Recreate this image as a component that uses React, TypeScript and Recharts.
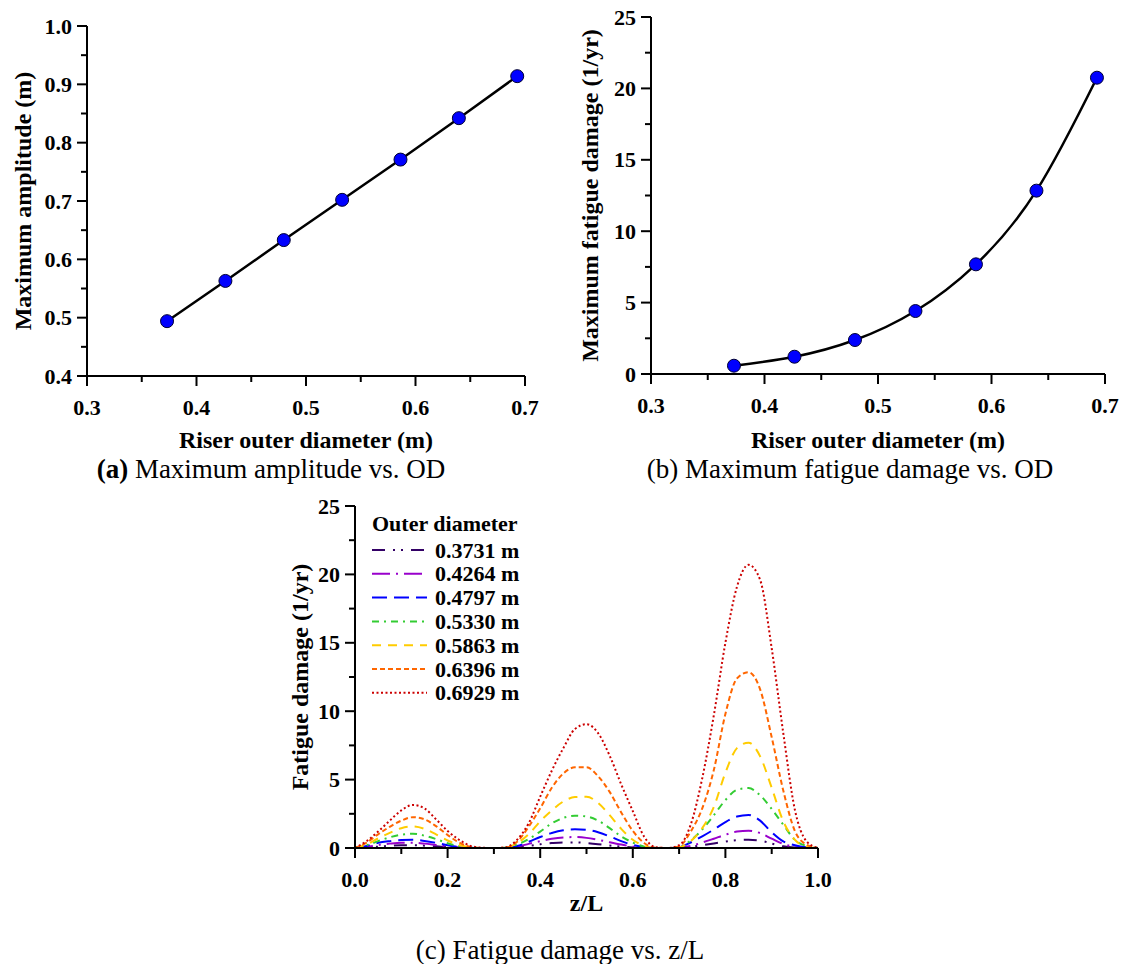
import { LineChart, Line, XAxis, YAxis } from 'recharts'

const serif = "'Liberation Serif', 'Times New Roman', Times, serif"

// (a) and (b): seven riser outer diameters
const outerDiameters = [0.3731, 0.4264, 0.4797, 0.533, 0.5863, 0.6396, 0.6929]
const maxAmplitude = [0.494, 0.563, 0.633, 0.702, 0.771, 0.842, 0.914]
const maxFatigueDamage = [0.58, 1.21, 2.38, 4.41, 7.68, 12.84, 20.75]

const odMajor = [0.3, 0.4, 0.5, 0.6, 0.7]
const odMinor = [0.35, 0.45, 0.55, 0.65]
const ampMajor = [0.4, 0.5, 0.6, 0.7, 0.8, 0.9, 1.0]
const ampMinor = [0.45, 0.55, 0.65, 0.75, 0.85, 0.95]
const damageMajor = [0, 5, 10, 15, 20, 25]
const damageMinor = [2.5, 7.5, 12.5, 17.5, 22.5]
const zMajor = [0, 0.2, 0.4, 0.6, 0.8, 1.0]
const zMinor = [0.1, 0.3, 0.5, 0.7, 0.9]

// (c): fatigue damage along the riser
const zOverL = [
  0, 0.025, 0.05, 0.075, 0.1, 0.125, 0.15, 0.175, 0.2, 0.225, 0.25,
  0.275, 0.3, 0.325, 0.35, 0.375, 0.4, 0.425, 0.45, 0.475, 0.5,
  0.525, 0.55, 0.575, 0.6, 0.625, 0.65, 0.675, 0.7, 0.725, 0.75,
  0.775, 0.8, 0.825, 0.85, 0.875, 0.9, 0.925, 0.95, 0.975, 1,
]
const damage3731 = [
  0, 0.04, 0.1, 0.16, 0.2, 0.2, 0.17, 0.12, 0.06, 0.02, 0,
  0, 0, 0.01, 0.05, 0.15, 0.27, 0.36, 0.41, 0.41, 0.36,
  0.28, 0.18, 0.1, 0.04, 0.01, 0, 0, 0.01, 0.08, 0.2,
  0.33, 0.47, 0.57, 0.6, 0.54, 0.32, 0.12, 0.03, 0, 0,
]
const damage4264 = [
  0, 0.08, 0.22, 0.32, 0.38, 0.38, 0.32, 0.22, 0.12, 0.05, 0.01,
  0, 0, 0.01, 0.1, 0.3, 0.5, 0.67, 0.77, 0.8, 0.74,
  0.6, 0.42, 0.25, 0.1, 0.03, 0, 0, 0.02, 0.15, 0.4,
  0.68, 0.97, 1.2, 1.26, 1.09, 0.68, 0.3, 0.08, 0, 0,
]
const damage4797 = [
  0, 0.15, 0.38, 0.5, 0.58, 0.6, 0.52, 0.38, 0.2, 0.08, 0.02,
  0, 0, 0.02, 0.15, 0.45, 0.8, 1.1, 1.3, 1.37, 1.33,
  1.15, 0.85, 0.5, 0.22, 0.06, 0, 0, 0.05, 0.4, 0.85,
  1.35, 1.9, 2.3, 2.42, 2.0, 1.15, 0.48, 0.2, 0.05, 0,
]
const damage5330 = [
  0, 0.2, 0.5, 0.78, 0.97, 1.04, 0.9, 0.65, 0.35, 0.13, 0.03,
  0, 0, 0.02, 0.25, 0.65, 1.2, 1.8, 2.2, 2.36, 2.3,
  2.0, 1.45, 0.85, 0.4, 0.1, 0, 0, 0.05, 0.55, 1.35,
  2.4, 3.5, 4.25, 4.38, 3.85, 2.85, 1.7, 0.6, 0.15, 0,
]
const damage5863 = [
  0, 0.25, 0.7, 1.1, 1.45, 1.57, 1.4, 1.0, 0.55, 0.22, 0.05,
  0, 0, 0.02, 0.35, 1.0, 1.95, 2.75, 3.4, 3.72, 3.75,
  3.3, 2.4, 1.4, 0.6, 0.15, 0, 0, 0.05, 0.5, 1.45,
  3.0, 5.5, 7.3, 7.7, 6.7, 4.4, 1.95, 0.6, 0.1, 0,
]
const damage6396 = [
  0, 0.4, 1.0, 1.55, 2.0, 2.25, 2.1, 1.6, 0.95, 0.4, 0.08,
  0, 0, 0.03, 0.45, 1.55, 2.9, 4.4, 5.45, 5.9, 5.9,
  5.25, 4.1, 2.6, 1.25, 0.35, 0.02, 0, 0.12, 1.2, 2.9,
  5.7, 9.8, 12.4, 12.85, 11.6, 8.1, 4.2, 1.25, 0.25, 0,
]
const damage6929 = [
  0, 0.5, 1.2, 2.0, 2.75, 3.15, 2.9, 2.1, 1.25, 0.6, 0.15,
  0.02, 0, 0.05, 0.6, 1.8, 3.75, 5.65, 7.3, 8.7, 9.05,
  8.4, 6.75, 4.65, 2.7, 0.8, 0.05, 0, 0.2, 1.7, 5.1,
  9.7, 15.0, 19.1, 20.7, 19.6, 14.6, 8.4, 2.8, 0.5, 0,
]
const legendLabels = ['0.3731 m', '0.4264 m', '0.4797 m', '0.5330 m', '0.5863 m', '0.6396 m', '0.6929 m']

const lineColors = ['#330066', '#9900CC', '#0000FF', '#33CC33', '#FFCC00', '#FF6600', '#CC0000']
const lineDashes = ['13 8 2 6 2 8', '18 6 2 6', '15 7', '7 5 2 5', '9 7', '5 3', '2 2.5']

const damageSeries = [damage3731, damage4264, damage4797, damage5330, damage5863, damage6396, damage6929]

const odRows = outerDiameters.map((od, i) => ({ od, amp: maxAmplitude[i], dmg: maxFatigueDamage[i] }))
const zRows = zOverL.map((z, i) => {
  const row: Record<string, number> = { z }
  damageSeries.forEach((s, k) => {
    row['s' + k] = s[i]
  })
  return row
})

const tickText = { fontFamily: serif, fontSize: 22, fontWeight: 700, fill: '#000' }
const titleText = { fontFamily: serif, fontSize: 24, fontWeight: 700, fill: '#000' }
const legendText = { fontFamily: serif, fontSize: 22, fontWeight: 700, fill: '#000' }
const axisLine = { stroke: '#000', strokeWidth: 2 }
const blueDot = { r: 6.5, fill: '#0000FF', stroke: '#000033', strokeWidth: 1 }

const allTicks = (a: number[], b: number[]) => [...a, ...b].sort((m, n) => m - n)

function bottomTick(major: number[], digits: number) {
  return (p: any) => {
    const v = p.payload.value
    const isMajor = major.includes(v)
    return (
      <g>
        <line x1={p.x} x2={p.x} y1={p.y} y2={p.y + (isMajor ? 10 : 6)} stroke="#000" strokeWidth={2} />
        {isMajor && (
          <text x={p.x} y={p.y + 39} textAnchor="middle" style={tickText}>
            {v.toFixed(digits)}
          </text>
        )}
      </g>
    )
  }
}

function leftTick(major: number[], digits: number) {
  return (p: any) => {
    const v = p.payload.value
    const isMajor = major.includes(v)
    return (
      <g>
        <line x1={p.x - (isMajor ? 10 : 6)} x2={p.x} y1={p.y} y2={p.y} stroke="#000" strokeWidth={2} />
        {isMajor && (
          <text x={p.x - 15} y={p.y + 7.5} textAnchor="end" style={tickText}>
            {v.toFixed(digits)}
          </text>
        )}
      </g>
    )
  }
}

function AmplitudeChart() {
  return (
    <LineChart width={560} height={480} data={odRows} margin={{ top: 26, right: 35, bottom: 0, left: 0 }}>
      <XAxis
        dataKey="od" type="number" domain={[0.3, 0.7]} ticks={allTicks(odMajor, odMinor)} interval={0}
        tickSize={0} tickMargin={0} tickLine={false} axisLine={axisLine} tick={bottomTick(odMajor, 1)} height={104}
        label={{ value: 'Riser outer diameter (m)', position: 'insideTop', offset: 55, style: titleText }}
      />
      <YAxis
        type="number" domain={[0.4, 1.0]} ticks={allTicks(ampMajor, ampMinor)} interval={0}
        tickSize={0} tickMargin={0} tickLine={false} axisLine={axisLine} tick={leftTick(ampMajor, 1)} width={87}
        label={{ value: 'Maximum amplitude (m)', angle: -90, position: 'insideLeft', offset: 22, style: { ...titleText, textAnchor: 'middle' } }}
      />
      <Line dataKey="amp" type="linear" stroke="#000" strokeWidth={2.5} dot={blueDot} activeDot={false} isAnimationActive={false} />
    </LineChart>
  )
}

function MaxDamageChart() {
  return (
    <LineChart width={566} height={480} data={odRows} margin={{ top: 17, right: 21, bottom: 0, left: 0 }}>
      <XAxis
        dataKey="od" type="number" domain={[0.3, 0.7]} ticks={allTicks(odMajor, odMinor)} interval={0}
        tickSize={0} tickMargin={0} tickLine={false} axisLine={axisLine} tick={bottomTick(odMajor, 1)} height={106}
        label={{ value: 'Riser outer diameter (m)', position: 'insideTop', offset: 57, style: titleText }}
      />
      <YAxis
        type="number" domain={[0, 25]} ticks={allTicks(damageMajor, damageMinor)} interval={0}
        tickSize={0} tickMargin={0} tickLine={false} axisLine={axisLine} tick={leftTick(damageMajor, 0)} width={91}
        label={{ value: 'Maximum fatigue damage (1/yr)', angle: -90, position: 'insideLeft', offset: 29, style: { ...titleText, textAnchor: 'middle' } }}
      />
      <Line dataKey="dmg" type="natural" stroke="#000" strokeWidth={2.5} dot={blueDot} activeDot={false} isAnimationActive={false} />
    </LineChart>
  )
}

function DamageAlongRiserChart() {
  return (
    <LineChart width={560} height={474} data={zRows} margin={{ top: 16, right: 22, bottom: 0, left: 0 }}>
      <XAxis
        dataKey="z" type="number" domain={[0, 1]} ticks={allTicks(zMajor, zMinor)} interval={0}
        tickSize={0} tickMargin={0} tickLine={false} axisLine={axisLine} tick={bottomTick(zMajor, 1)} height={116}
        label={{ value: 'z/L', position: 'insideTop', offset: 46, style: titleText }}
      />
      <YAxis
        type="number" domain={[0, 25]} ticks={allTicks(damageMajor, damageMinor)} interval={0}
        tickSize={0} tickMargin={0} tickLine={false} axisLine={axisLine} tick={leftTick(damageMajor, 0)} width={75}
        label={{ value: 'Fatigue damage (1/yr)', angle: -90, position: 'insideLeft', offset: 19, style: { ...titleText, textAnchor: 'middle' } }}
      />
      {damageSeries.map((_, k) => (
        <Line
          key={k} dataKey={'s' + k} type="monotone" stroke={lineColors[k]} strokeWidth={2}
          strokeDasharray={lineDashes[k]} dot={false} activeDot={false} isAnimationActive={false}
        />
      ))}
    </LineChart>
  )
}

function DiameterLegend() {
  return (
    <svg width={190} height={200} style={{ position: 'absolute', left: 365, top: 505 }}>
      <text x={7} y={26} style={legendText}>Outer diameter</text>
      {legendLabels.map((label, k) => {
        const cy = 45 + k * 23.8
        return (
          <g key={label}>
            <line x1={7} x2={62} y1={cy} y2={cy} stroke={lineColors[k]} strokeWidth={2} strokeDasharray={lineDashes[k]} />
            <text x={70} y={cy + 7.5} style={legendText}>{label}</text>
          </g>
        )
      })}
    </svg>
  )
}

const captionStyle = {
  position: 'absolute' as const,
  width: 600,
  height: 30,
  lineHeight: '30px',
  textAlign: 'center' as const,
  fontFamily: serif,
  fontSize: 27,
  color: '#000',
  whiteSpace: 'nowrap' as const,
}

export default function App() {
  return (
    <div style={{ position: 'absolute', left: 0, top: 0, width: 1126, height: 964, background: '#fff', overflow: 'hidden' }}>
      <div style={{ position: 'absolute', left: 0, top: 0 }}>
        <AmplitudeChart />
      </div>
      <div style={{ position: 'absolute', left: 560, top: 0 }}>
        <MaxDamageChart />
      </div>
      <div style={{ position: 'absolute', left: 280, top: 490 }}>
        <DamageAlongRiserChart />
      </div>
      <DiameterLegend />
      <div style={{ ...captionStyle, left: 271 - 300, top: 454 }}>
        <b>(a)</b> Maximum amplitude vs. OD
      </div>
      <div style={{ ...captionStyle, left: 850 - 300, top: 454 }}>(b) Maximum fatigue damage vs. OD</div>
      <div style={{ ...captionStyle, left: 560 - 300, top: 935 }}>(c) Fatigue damage vs. z/L</div>
    </div>
  )
}
